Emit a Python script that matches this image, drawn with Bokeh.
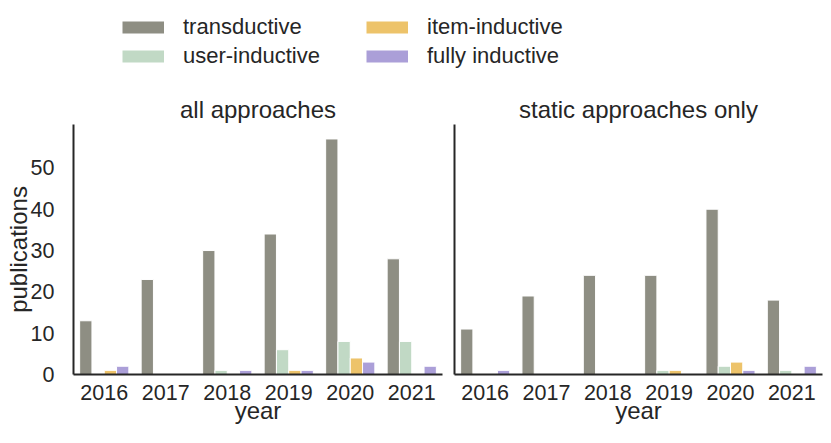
from bokeh.plotting import figure
from bokeh.models import FactorRange, Range1d, FixedTicker, ColumnDataSource, Legend, LegendItem
from bokeh.transform import dodge
from bokeh.layouts import column, row
from bokeh.embed import file_html
from bokeh.resources import INLINE

years = ["2016", "2017", "2018", "2019", "2020", "2021"]
series = ["transductive", "user-inductive", "item-inductive", "fully inductive"]
colors = ["#8e8e83", "#c1d9c5", "#edc36a", "#ab9fd8"]

all_transductive = [13, 23, 30, 34, 57, 28]
all_user_inductive = [0, 0, 1, 6, 8, 8]
all_item_inductive = [1, 0, 0, 1, 4, 0]
all_fully_inductive = [2, 0, 1, 1, 3, 2]

static_transductive = [11, 19, 24, 24, 40, 18]
static_user_inductive = [0, 0, 0, 1, 2, 1]
static_item_inductive = [0, 0, 0, 1, 3, 0]
static_fully_inductive = [1, 0, 0, 0, 1, 2]

y_ticks = [0, 10, 20, 30, 40, 50]
y_max = 60.5

FONT = "Liberation Sans"
TEXT = "#262626"
TICK_SIZE = "21.5px"
LEGEND_SIZE = "22px"
LABEL_SIZE = "24px"
offsets = [-0.3, -0.1, 0.1, 0.3]


def make_panel(title, vals, width, b_left, b_right, first):
    p = figure(width=width, height=360, x_range=FactorRange(factors=years, range_padding=0),
               y_range=Range1d(0, y_max), toolbar_location=None, output_backend="svg",
               min_border_left=b_left, min_border_right=b_right, min_border_top=41,
               min_border_bottom=69, outline_line_color=None)
    data = dict(year=years)
    for i, v in enumerate(vals):
        data["s%d" % i] = v
    src = ColumnDataSource(data)
    for i, c in enumerate(colors):
        p.vbar(x=dodge("year", offsets[i], range=p.x_range), top="s%d" % i, width=0.2,
               source=src, fill_color=c, line_color="white", line_width=1)
    p.grid.visible = False
    p.title.text = title
    p.title.align = "center"
    p.title.text_font = FONT
    p.title.text_font_size = LABEL_SIZE
    p.title.text_font_style = "normal"
    p.title.text_color = TEXT
    p.title.standoff = 3
    for ax in (p.xaxis[0], p.yaxis[0]):
        ax.axis_line_width = 2
        ax.axis_line_color = TEXT
        ax.major_tick_line_color = None
        ax.minor_tick_line_color = None
        ax.major_tick_out = 0
        ax.major_tick_in = 0
        ax.major_label_text_font = FONT
        ax.major_label_text_font_size = TICK_SIZE
        ax.major_label_text_color = TEXT
        ax.axis_label_text_font = FONT
        ax.axis_label_text_font_size = LABEL_SIZE
        ax.axis_label_text_font_style = "normal"
        ax.axis_label_text_color = TEXT
    p.xaxis.axis_label = "year"
    p.xaxis.major_label_standoff = 10
    p.xaxis.axis_label_standoff = -6
    if first:
        p.yaxis.ticker = FixedTicker(ticks=y_ticks)
        p.yaxis.axis_label = "publications"
        p.yaxis.major_label_standoff = 19
        p.yaxis.axis_label_standoff = -4
    else:
        p.yaxis.ticker = FixedTicker(ticks=[])
        p.yaxis.major_label_standoff = 0
    return p


p1 = make_panel("all approaches",
                [all_transductive, all_user_inductive, all_item_inductive, all_fully_inductive],
                449, 73, 7, True)
p2 = make_panel("static approaches only",
                [static_transductive, static_user_inductive, static_item_inductive, static_fully_inductive],
                382, 5, 9, False)

lg = figure(width=831, height=83, x_range=(0, 1), y_range=(0, 1), toolbar_location=None,
            output_backend="svg", min_border=0, x_axis_type=None, y_axis_type=None,
            outline_line_color=None)
lg.grid.visible = False
rs = [lg.line(x=[5, 6], y=[5, 6], line_color=c, line_width=12) for c in colors]


def make_legend(idx, loc):
    return Legend(items=[LegendItem(label=series[i], renderers=[rs[i]]) for i in idx],
                  location=loc, orientation="vertical", glyph_width=42, glyph_height=26,
                  label_height=26, label_standoff=19, spacing=3, padding=0, margin=0,
                  border_line_color=None, background_fill_alpha=0,
                  label_text_font=FONT, label_text_font_size=LEGEND_SIZE, label_text_color=TEXT)


lg.add_layout(make_legend([0, 1], (122, 14)))
lg.add_layout(make_legend([2, 3], (366, 14)))

layout = column(lg, row(p1, p2))
open("out.html", "w").write(file_html(layout, INLINE))
